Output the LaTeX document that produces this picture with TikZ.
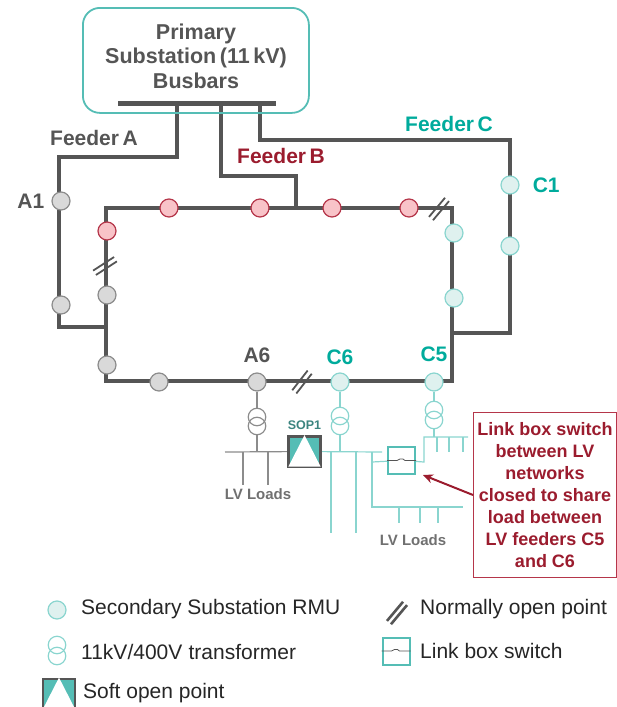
\documentclass[tikz,border=0pt]{standalone}
\usepackage{fontspec}
\setmainfont{Liberation Sans}
\usepackage{tikz}
\usetikzlibrary{arrows.meta,positioning,backgrounds}
\definecolor{wiredark}{HTML}{555555}
\definecolor{tealtext}{HTML}{00AB9C}
\definecolor{tealline}{HTML}{8AD5CF}
\definecolor{tealfill}{HTML}{DFF1EF}
\definecolor{tealsop}{HTML}{55BDB5}
\definecolor{greyline}{HTML}{8C8C8C}
\definecolor{greyfill}{HTML}{D9D9D9}
\definecolor{redline}{HTML}{B5364A}
\definecolor{redfill}{HTML}{F8C3C8}
\definecolor{redtext}{HTML}{9B1C2E}
\newcommand{\BoldSize}[1]{\fontsize{#1}{#1}\selectfont\bfseries}
\newcommand{\SopMark}[1]{\fill[white] ([xshift=1.3pt,yshift=1.3pt]#1.south west) -- (#1.north) -- ([xshift=-1.3pt,yshift=1.3pt]#1.south east) -- cycle;}
\newcommand{\SwitchWire}[1]{\draw[switchwire] (#1.west) -- ++(10,0) -- ++(3,-1.5) -- ++(3,0) -- ++(2,1.5) -- (#1.east);}
\tikzstyle{feeder} = [line width=4.5pt, draw=wiredark, line join=miter]
\tikzstyle{rmugrey} = [circle, draw=greyline, fill=greyfill, line width=1.2pt, minimum size=18pt, inner sep=0pt]
\tikzstyle{rmured} = [circle, draw=redline, fill=redfill, line width=1.2pt, minimum size=18pt, inner sep=0pt]
\tikzstyle{rmuteal} = [circle, draw=tealline, fill=tealfill, line width=1.2pt, minimum size=18pt, inner sep=0pt]
\tikzstyle{coilgrey} = [circle, draw=greyline, line width=1.2pt, minimum size=17.5pt, inner sep=0pt]
\tikzstyle{coilteal} = [circle, draw=tealline, line width=1.2pt, minimum size=17.5pt, inner sep=0pt]
\tikzstyle{lvgrey} = [draw=greyline, line width=1.2pt]
\tikzstyle{lvteal} = [draw=tealline, line width=1.2pt]
\tikzstyle{sopbox} = [rectangle, draw=wiredark, fill=tealsop, line width=2.8pt, minimum width=32pt, minimum height=30pt, inner sep=0pt]
\tikzstyle{linkbox} = [rectangle, draw=tealsop, fill=white, line width=2pt, minimum width=27pt, minimum height=27pt, inner sep=0pt]
\tikzstyle{switchwire} = [draw=wiredark, line width=0.8pt]
\tikzstyle{labelgrey} = [text=wiredark, font=\BoldSize{21}, inner sep=0pt]
\tikzstyle{labelteal} = [text=tealtext, font=\BoldSize{21}, inner sep=0pt]
\tikzstyle{labelred} = [text=redtext, font=\BoldSize{21}, inner sep=0pt]
\tikzstyle{loadlabel} = [text=greyline!80!black, font=\BoldSize{15}, inner sep=0pt]
\tikzstyle{legendtext} = [anchor=west, text=black!85, font=\fontsize{21}{21}\selectfont, inner sep=0pt]
\tikzset{nop/.pic={
    \draw[line width=#1, draw=wiredark] (-12.5,2.6) -- (12.5,2.6);
    \draw[line width=#1, draw=wiredark] (-12.5,-2.6) -- (12.5,-2.6);
}}
\begin{document}
\begin{tikzpicture}[x=1pt, y=-1pt]
    \useasboundingbox (0,0) rectangle (617,707);
    \node[draw=tealsop, line width=1.8pt, rounded corners=17pt, minimum width=226pt, minimum height=105pt, anchor=north west] (PS) at (82,7) {};
    \node[align=center, text=wiredark, font=\fontsize{21.5}{24.5}\selectfont\bfseries, inner sep=0pt] (PSlabel) at (196,56) {Primary\\Substation\,(11\,kV)\\Busbars};
    \node[fill=wiredark, minimum width=158pt, minimum height=5pt, inner sep=0pt] (BB) at (197,103) {};
    \coordinate (tapA) at (177,103);
    \coordinate (tapB) at (221,103);
    \coordinate (tapC) at (260,103);
    \coordinate (ringNW) at (106,208);
    \coordinate (ringSE) at (452,381);
    \coordinate (joinA) at (106,327);
    \coordinate (joinB) at (296,208);
    \coordinate (joinC) at (452,333);
    \node[rmugrey] (A1) at (61,201) {};
    \node[rmugrey] (A2) at (61,305) {};
    \node[rmured] (B1) at (169,208) {};
    \node[rmured] (B2) at (260,208) {};
    \node[rmured] (B3) at (332,208) {};
    \node[rmured] (B4) at (409,208) {};
    \node[rmured] (B5) at (107,231) {};
    \node[rmugrey] (A3) at (107,295) {};
    \node[rmugrey] (A4) at (107,365) {};
    \node[rmugrey] (A5) at (159,382) {};
    \node[rmugrey] (A6) at (257,382) {};
    \node[rmuteal] (C6) at (340,382) {};
    \node[rmuteal] (C5) at (434,382) {};
    \node[rmuteal] (C4) at (454,298) {};
    \node[rmuteal] (C3) at (454,233) {};
    \node[rmuteal] (C2) at (510,246) {};
    \node[rmuteal] (C1) at (510,185) {};
    \node[labelgrey, left=7pt of A1] (A1label) {A1};
    \node[labelteal, right=13pt of C1] (C1label) {C1};
    \node[labelgrey, above=9pt of A6] (A6label) {A6};
    \node[labelteal, above=8pt of C6] (C6label) {C6};
    \node[labelteal, above=10pt of C5] (C5label) {C5};
    \node[labelgrey] (FA) at (94,138) {Feeder\,A};
    \node[labelred] (FB) at (281,156) {Feeder\,B};
    \node[labelteal] (FC) at (449,124) {Feeder\,C};
    \node[coilgrey] (TA1) at (257,417) {};
    \node[coilgrey] (TA2) at (257,426) {};
    \node[coilteal] (TC1) at (340,416) {};
    \node[coilteal] (TC2) at (340,426) {};
    \node[coilteal] (TD1) at (434,410) {};
    \node[coilteal] (TD2) at (434,420) {};
    \node[sopbox] (SOP) at (304.5,451.5) {};
    \SopMark{SOP}
    \node[text=tealsop!70!black, font=\BoldSize{12.5}, inner sep=0pt, above=5pt of SOP] (SOPlabel) {SOP1};
    \node[linkbox] (LB) at (401.5,460.5) {};
    \SwitchWire{LB}
    \node[loadlabel] (LVleft) at (258,494) {LV Loads};
    \node[loadlabel] (LVright) at (413,540) {LV Loads};
    \coordinate (busA) at (257,452);
    \coordinate (busAw) at (225,452);
    \coordinate (dropA1) at (243,452);
    \coordinate (dropA2) at (268,452);
    \coordinate (busC) at (340,452);
    \coordinate (busCe) at (382,452);
    \coordinate (dropC1) at (331,452);
    \coordinate (dropC2) at (356,452);
    \coordinate (dropC3) at (372,452);
    \coordinate (busD) at (372,507);
    \coordinate (busDe) at (463,507);
    \coordinate (linkW) at (372,462);
    \coordinate (linkE) at (424,462);
    \coordinate (busT) at (424,437);
    \coordinate (busTe) at (468,437);
    \node[draw=redline, fill=white, line width=1pt, minimum width=143pt, minimum height=165pt, inner sep=0pt, anchor=north west] (NOTE) at (473,412) {};
    \node[align=center, text=redtext, font=\fontsize{18}{22}\selectfont\bfseries, inner sep=0pt] (NOTEtext) at (545,495) {Link box switch\\between LV\\networks\\closed to share\\load between\\LV feeders C5\\and C6};
    \coordinate (NOTEtail) at (473,495);
    \coordinate (NOTEtip) at (423,475);
    \draw[-{Stealth[length=10pt,width=9pt]}, draw=redtext, line width=2pt] (NOTEtail) -- (NOTEtip);
    \pic[rotate=52] at (302,382) {nop=1.8pt};
    \pic[rotate=50] at (439,209) {nop=1.8pt};
    \pic[rotate=33] at (105,266) {nop=1.8pt};
    \node[rmuteal] (Lrmu) at (57,610) {};
    \node[coilteal] (Lcoil1) at (57,645) {};
    \node[coilteal] (Lcoil2) at (57,656) {};
    \node[sopbox] (Lsop) at (59,694) {};
    \SopMark{Lsop}
    \node[linkbox] (Llink) at (396,651) {};
    \SwitchWire{Llink}
    \pic[rotate=50] at (397,613) {nop=2.6pt};
    \node[legendtext] (Ltext1) at (81,609) {Secondary Substation RMU};
    \node[legendtext] (Ltext2) at (81,652) {11kV/400V\hspace{0.3em}transformer};
    \node[legendtext] (Ltext3) at (83,693) {Soft open point};
    \node[legendtext] (Ltext4) at (420,609) {Normally open point};
    \node[legendtext] (Ltext5) at (420,651) {Link box switch};
    \begin{scope}[on background layer]
      \draw[feeder] (ringNW) rectangle (ringSE);
      \draw[feeder] (tapA) |- (59,157) -- (59,327) -- (joinA);
      \draw[feeder] (tapB) |- (296,176) -- (joinB);
      \draw[feeder] (tapC) |- (510,140) -- (510,333) -- (joinC);
      \draw[lvgrey] (A6) -- (TA1);
      \draw[lvgrey] (TA2) -- (busA);
      \draw[lvgrey] (busAw) -- (SOP);
      \draw[lvgrey] (dropA1) -- ++(0,33);
      \draw[lvgrey] (dropA2) -- ++(0,33);
      \draw[lvteal] (C6) -- (TC1);
      \draw[lvteal] (TC2) -- (busC);
      \draw[lvteal] (SOP) -- (busCe);
      \draw[lvteal] (dropC1) -- ++(0,81);
      \draw[lvteal] (dropC2) -- ++(0,81);
      \draw[lvteal] (dropC3) -- (busD) -- (busDe);
      \draw[lvteal] (busD -| 399,0) -- ++(0,16);
      \draw[lvteal] (busD -| 420,0) -- ++(0,16);
      \draw[lvteal] (busD -| 438,0) -- ++(0,16);
      \draw[lvteal] (linkW) -- (LB);
      \draw[lvteal] (LB) -- (linkE) -- (busT) -- (busTe);
      \draw[lvteal] (busT -| 437,0) -- ++(0,15);
      \draw[lvteal] (busT -| 449,0) -- ++(0,15);
      \draw[lvteal] (busT -| 463,0) -- ++(0,15);
      \draw[lvteal] (C5) -- (TD1);
      \draw[lvteal] (TD2) -- (busT -| 434,0);
    \end{scope}
\end{tikzpicture}
\end{document}
